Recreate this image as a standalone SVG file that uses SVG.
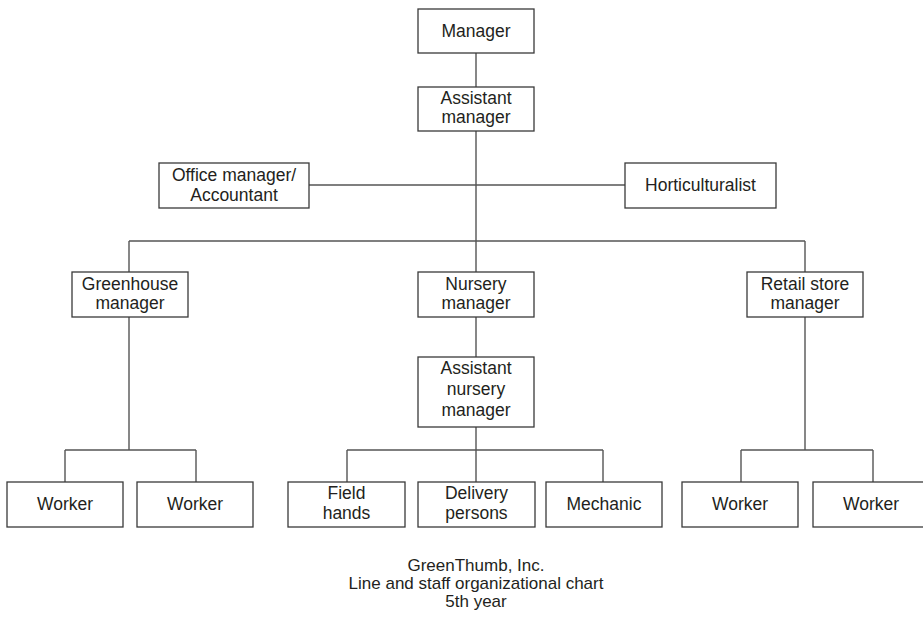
<svg xmlns="http://www.w3.org/2000/svg" width="923" height="619" viewBox="0 0 923 619">
<style>
.box{fill:#fff;stroke:#3a3a3a;stroke-width:1.3}
.ln{fill:none;stroke:#555;stroke-width:1.4}
text{font-family:"Liberation Sans",Arial,sans-serif;font-size:17.5px;fill:#231f20;text-anchor:middle}
.cap{font-size:17px}
</style>
<rect width="923" height="619" fill="#fff"/>
<g id="connectors" class="ln">
<path d="M476 53V87M476 131V272M309 185H625M129 241H805M129 241V272M805 241V272"/>
<path d="M129 317V450M65 450H196M65 450V482M196 450V482"/>
<path d="M476 317V357M476 427V482M347 450H603M347 450V482M603 450V482"/>
<path d="M805 317V450M741 450H873M741 450V482M873 450V482"/>
</g>
<g id="manager"><rect class="box" x="418" y="9" width="116" height="44"/><text x="476" y="37">Manager</text></g>
<g id="assistant-manager"><rect class="box" x="418" y="87" width="116" height="44"/><text x="476" y="104">Assistant</text><text x="476" y="123">manager</text></g>
<g id="office-manager"><rect class="box" x="159" y="163" width="150" height="45"/><text x="234" y="181">Office manager/</text><text x="234" y="201">Accountant</text></g>
<g id="horticulturalist"><rect class="box" x="625" y="163" width="151" height="45"/><text x="700.5" y="191">Horticulturalist</text></g>
<g id="greenhouse-manager"><rect class="box" x="72" y="272" width="116" height="45"/><text x="130" y="290">Greenhouse</text><text x="130" y="309">manager</text></g>
<g id="nursery-manager"><rect class="box" x="418" y="272" width="116" height="45"/><text x="476" y="290">Nursery</text><text x="476" y="309">manager</text></g>
<g id="retail-store-manager"><rect class="box" x="747" y="272" width="116" height="45"/><text x="805" y="290">Retail store</text><text x="805" y="309">manager</text></g>
<g id="assistant-nursery-manager"><rect class="box" x="418" y="357" width="116" height="70"/><text x="476" y="374">Assistant</text><text x="476" y="395">nursery</text><text x="476" y="416">manager</text></g>
<g id="gh-worker-1"><rect class="box" x="7" y="482" width="116" height="45"/><text x="65" y="510">Worker</text></g>
<g id="gh-worker-2"><rect class="box" x="137" y="482" width="116" height="45"/><text x="195" y="510">Worker</text></g>
<g id="field-hands"><rect class="box" x="288" y="482" width="117" height="45"/><text x="346.5" y="499">Field</text><text x="346.5" y="519">hands</text></g>
<g id="delivery-persons"><rect class="box" x="418" y="482" width="117" height="45"/><text x="476.5" y="499">Delivery</text><text x="476.5" y="519">persons</text></g>
<g id="mechanic"><rect class="box" x="546" y="482" width="116" height="45"/><text x="604" y="510">Mechanic</text></g>
<g id="rs-worker-1"><rect class="box" x="682" y="482" width="116" height="45"/><text x="740" y="510">Worker</text></g>
<g id="rs-worker-2"><rect class="box" x="813" y="482" width="117" height="45"/><text x="871" y="510">Worker</text></g>
<g id="caption"><text class="cap" x="476" y="571">GreenThumb, Inc.</text><text class="cap" x="476" y="589">Line and staff organizational chart</text><text class="cap" x="476" y="607">5th year</text></g>
</svg>
